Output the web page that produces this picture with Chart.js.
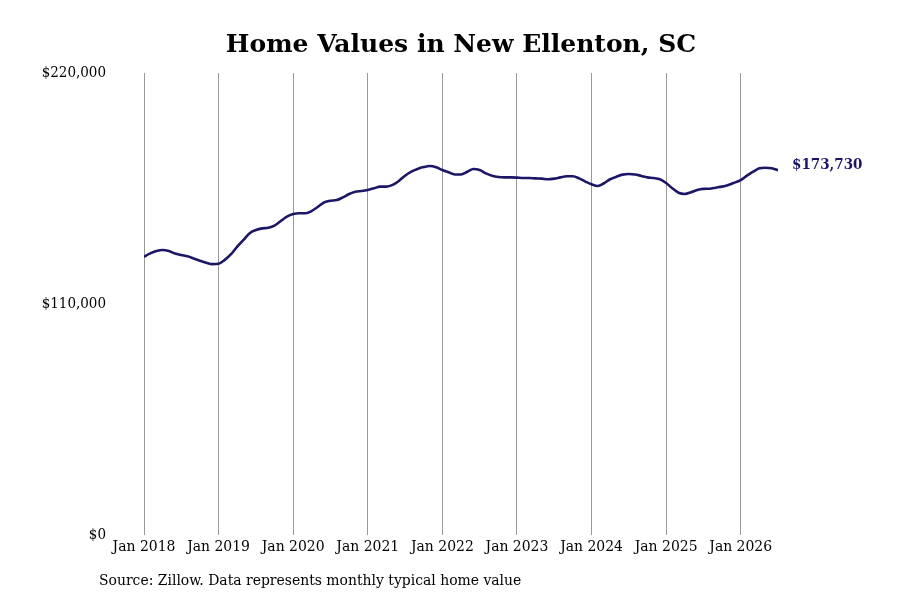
<!DOCTYPE html>
<html>
<head>
<meta charset="utf-8">
<script src="https://cdn.jsdelivr.net/npm/chart.js@4.4.1/dist/chart.umd.min.js"></script>
<style>
  html, body { margin: 0; padding: 0; background: #fff; }
  #wrap { width: 900px; height: 600px; }
</style>
</head>
<body>
<div id="wrap"><canvas id="homeChart"></canvas></div>
<script>
  /* ── Data ── */
  const START_YEAR = 2018;
  const VALUES = [
    132500, 134100, 135200, 135700, 135200, 134000, 133300, 132700, 131700, 130600, 129700, 129000, // 2018
    129200, 131000, 133700, 137300, 140500, 143700, 145200, 146000, 146300, 147300, 149500, 151600, // 2019
    152800, 153200, 153200, 154300, 156300, 158400, 159200, 159500, 160800, 162400, 163500, 163800, // 2020
    164300, 165100, 165900, 165900, 166700, 168600, 171100, 173000, 174300, 175200, 175700, 175100, // 2021
    173800, 172700, 171700, 171700, 173000, 174300, 173800, 172200, 171100, 170500, 170300, 170300, // 2022
    170200, 170000, 170000, 169800, 169700, 169400, 169700, 170300, 170800, 170800, 169800, 168300, // 2023
    167000, 166200, 167500, 169400, 170600, 171600, 171900, 171700, 171000, 170300, 170000, 169400, // 2024
    167600, 165100, 163000, 162400, 163200, 164300, 164800, 164900, 165400, 165900, 166700, 167800, // 2025
    169000, 171100, 173000, 174600, 174900, 174600, 173730                                          // 2026
  ];
  const MONTHS = VALUES.map((v, i) => {
    const y = START_YEAR + Math.floor(i / 12);
    const m = (i % 12) + 1;
    return y + '-' + String(m).padStart(2, '0');
  });
  const TICK_LABELS = ['Jan 2018', 'Jan 2019', 'Jan 2020', 'Jan 2021', 'Jan 2022', 'Jan 2023', 'Jan 2024', 'Jan 2025', 'Jan 2026'];
  const Y_TICKS = [0, 110000, 220000];

  const LINE_COLOR = '#1b1766';
  const FONT = "'DejaVu Serif Condensed', 'DejaVu Serif', serif";
  const TITLE_FONT = "'DejaVu Serif', serif";

  function formatUSD(n) {
    return '$' + n.toLocaleString('en-US');
  }

  /* ── Chart ── */
  const ctx = document.getElementById('homeChart').getContext('2d');
  new Chart(ctx, {
    type: 'line',
    data: {
      labels: MONTHS,
      datasets: [{
        label: 'Typical home value',
        data: VALUES.map((v, i) => ({ x: i, y: v })),
        borderColor: LINE_COLOR,
        borderWidth: 2.6,
        pointRadius: 0,
        cubicInterpolationMode: 'monotone',
        fill: false
      }]
    },
    options: {
      responsive: true,
      maintainAspectRatio: false,
      animation: false,
      layout: { padding: { left: 0, right: 122, top: 0, bottom: 0 } },
      plugins: {
        legend: { display: false },
        tooltip: { enabled: false },
        title: {
          display: true,
          fullSize: false,
          text: 'Home Values in New Ellenton, SC',
          color: '#000',
          font: { family: TITLE_FONT, size: 25, weight: 'bold' },
          padding: { top: 30, bottom: 13 }
        }
      },
      scales: {
        x: {
          type: 'linear',
          min: 0,
          max: VALUES.length - 1,
          afterBuildTicks(scale) {
            scale.ticks = TICK_LABELS.map((t, i) => ({ value: i * 12 }));
          },
          afterFit(scale) { scale.height = 65; },
          grid: { color: '#999', lineWidth: 1, drawTicks: false },
          border: { display: false },
          ticks: {
            padding: 3,
            color: '#000',
            font: { family: FONT, size: 15.5 },
            maxRotation: 0,
            autoSkip: false,
            callback: (v) => TICK_LABELS[v / 12]
          }
        },
        y: {
          min: 0,
          max: 220000,
          afterBuildTicks(scale) {
            scale.ticks = Y_TICKS.map(v => ({ value: v }));
          },
          afterFit(scale) { scale.width = 144; },
          grid: { display: false, drawTicks: false },
          border: { display: false },
          ticks: {
            padding: 38,
            color: '#000',
            font: { family: FONT, size: 15 },
            callback: (v) => formatUSD(v)
          }
        }
      }
    },
    plugins: [{
      id: 'endLabelAndSource',
      afterDraw(chart) {
        const { ctx } = chart;
        const meta = chart.getDatasetMeta(0);
        const last = meta.data[meta.data.length - 1];
        ctx.save();
        ctx.fillStyle = LINE_COLOR;
        ctx.font = 'bold 15px ' + FONT;
        ctx.textAlign = 'left';
        ctx.textBaseline = 'middle';
        ctx.fillText(formatUSD(VALUES[VALUES.length - 1]), last.x + 14, last.y - 5);

        ctx.fillStyle = '#000';
        ctx.font = '15.5px ' + FONT;
        ctx.fillText('Source: Zillow. Data represents monthly typical home value', 99, 581);
        ctx.restore();
      }
    }]
  });
</script>
</body>
</html>
